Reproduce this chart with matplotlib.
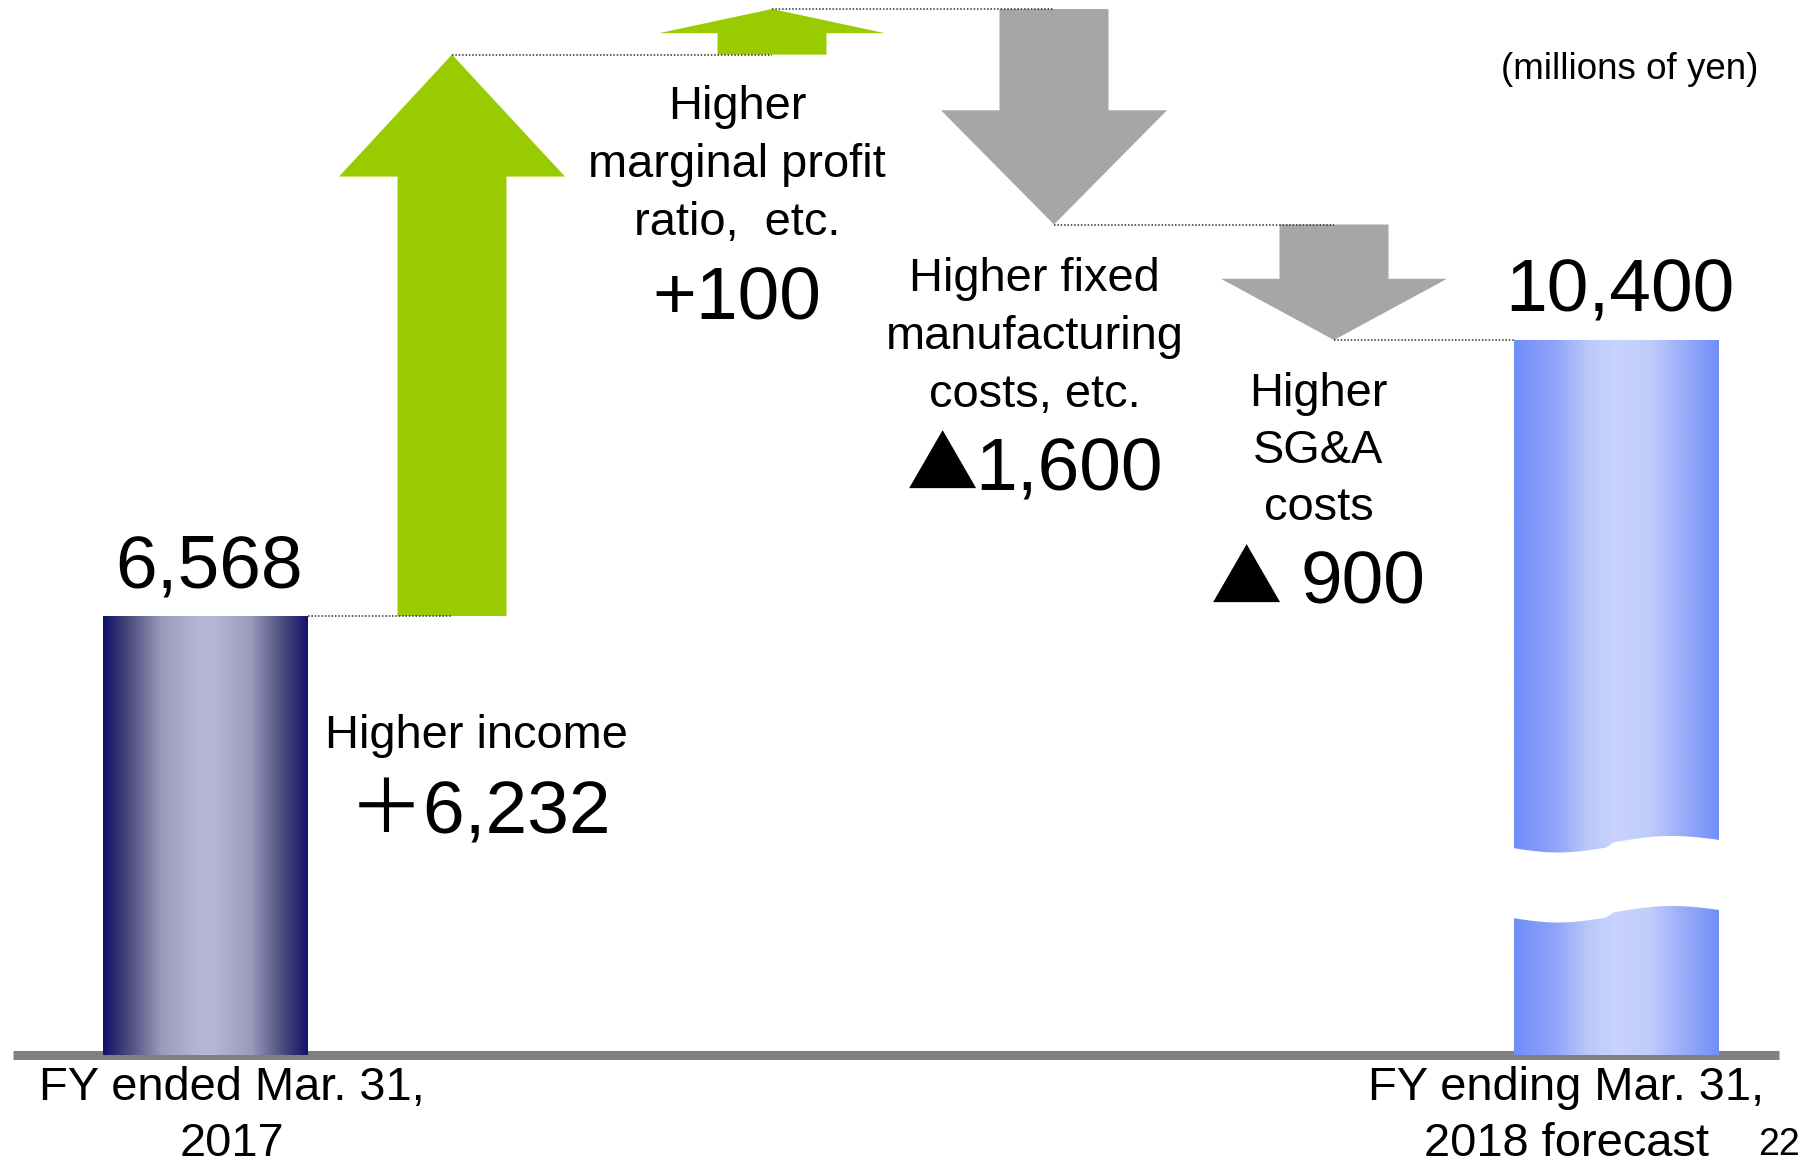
import numpy as np
import matplotlib
matplotlib.use("Agg")
import matplotlib.pyplot as plt
from matplotlib.patches import Polygon
from matplotlib.colors import to_rgb

# ---------------- data ----------------
CATEGORIES = [
    "FY ended Mar. 31,\n2017",
    "Higher income",
    "Higher\nmarginal profit\nratio,  etc.",
    "Higher fixed\nmanufacturing\ncosts, etc.",
    "Higher\nSG&A\ncosts",
    "FY ending Mar. 31,\n2018 forecast",
]
START_VALUE = 6568
DELTAS = [6232, 100, -1600, -900]
END_VALUE = 10400
DELTA_PREFIX = ["＋", "+", "▲", "▲"]
UNIT_LABEL = "(millions of yen)"
PAGE_NUMBER = "22"

# ---------------- layout / style ----------------
W, H, DPI = 1811, 1165, 100
X_CENTER = [205, 452, 772, 1054, 1334, 1616]      # horizontal slots (px)
BAR_W, HEAD_W, SHAFT_W = 205, 226, 109
# schematic (non-proportional) vertical scale of the original slide:
Y_KNOT_VALUE = [-1700, 0, 6568, 10400, 11300, 12800, 12900, 13300]
Y_KNOT_POS = [-3.6, 110, 549, 825, 940.5, 1110.4, 1156, 1276]

GREEN = "#99cc00"
GRAY = "#a6a6a6"
FONT = ["Liberation Sans", "Noto Sans CJK JP", "DejaVu Sans"]
TRI_FONT = ["Noto Sans CJK JP", "Liberation Sans"]
LABEL_PT = 33.8
VALUE_PT = 54
plt.rcParams["font.family"] = FONT

LEFT_GRAD = [(0.0, "#12126a"), (0.12, "#4a4a7c"), (0.28, "#9a9abc"),
             (0.45, "#b4b4d4"), (0.55, "#b4b4d4"), (0.72, "#9a9abc"),
             (0.88, "#4a4a7c"), (1.0, "#12126a")]
RIGHT_GRAD = [(0.0, "#6f8ef8"), (0.2, "#90a4f8"), (0.36, "#bcc8fa"),
              (0.5, "#c8d4fc"), (0.66, "#c0ccfa"), (0.83, "#98acf8"),
              (1.0, "#6f8ef8")]


def fwd(v):
    return np.interp(v, Y_KNOT_VALUE, Y_KNOT_POS)


def inv(p):
    return np.interp(p, Y_KNOT_POS, Y_KNOT_VALUE)


fig = plt.figure(figsize=(W / DPI, H / DPI), dpi=DPI)
fig.patch.set_facecolor("white")
ax = fig.add_axes([0, 0, 1, 1])
ax.set_xlim(0, W)
ax.set_yscale("function", functions=(fwd, inv))
ax.set_ylim(inv(0), inv(H))
ax.axis("off")

to_disp = ax.transData.transform
to_data = ax.transData.inverted().transform


def gradient_image(stops, n=256):
    pos = [s[0] for s in stops]
    cols = np.array([to_rgb(s[1]) for s in stops])
    t = np.linspace(0, 1, n)
    rgb = np.stack([np.interp(t, pos, cols[:, k]) for k in range(3)], axis=-1)
    return rgb[np.newaxis, :, :]


# baseline
ax.plot([13, 1779], [0, 0], color="#808080", lw=6.5, solid_capstyle="butt", zorder=1)

# levels
levels = [START_VALUE]
for d in DELTAS:
    levels.append(levels[-1] + d)

# start / end bars (gradient)
for xc, val, grad in [(X_CENTER[0], START_VALUE, LEFT_GRAD),
                      (X_CENTER[-1], END_VALUE, RIGHT_GRAD)]:
    ax.imshow(gradient_image(grad), extent=(xc - BAR_W / 2, xc + BAR_W / 2, 0, val),
              aspect="auto", interpolation="bilinear", zorder=3)

# break mark on the end bar
xc = X_CENTER[-1]
x0d = to_disp([(xc - BAR_W / 2 - 1, 0)])[0]
x1d = to_disp([(xc + BAR_W / 2 + 1, 0)])[0]
t = np.linspace(0, 1, 200)
wave = np.where(t <= 0.44, 4.5 * np.sin(np.pi * np.clip(t, 0, 0.44) / 0.44),
                np.where(t < 0.5, -6 * (1 - np.cos(np.pi * (t - 0.44) / 0.06)) / 2,
                         -6 - 2 * (t - 0.5) / 0.5 - 5 * np.sin(np.pi * (t - 0.5) / 0.5)))
xs = x0d[0] + t * (x1d[0] - x0d[0])
upper = x0d[1] + 207 - wave
lower = upper - 70
pts = np.vstack([np.column_stack([xs, upper]), np.column_stack([xs[::-1], lower[::-1]])])
ax.add_patch(Polygon(to_data(pts), closed=True, facecolor="white", edgecolor="none", zorder=4))

# arrows
for i, d in enumerate(DELTAS):
    xc = X_CENTER[i + 1]
    v0, v1 = levels[i], levels[i + 1]
    xd, y0 = to_disp([(xc, v0)])[0]
    _, y1 = to_disp([(xc, v1)])[0]
    length = abs(y1 - y0)
    s = np.sign(y1 - y0)
    head = min(0.53 * length, 122)
    yb = y1 - s * head
    poly = [(xd - SHAFT_W / 2, y0), (xd - SHAFT_W / 2, yb), (xd - HEAD_W / 2, yb),
            (xd, y1), (xd + HEAD_W / 2, yb), (xd + SHAFT_W / 2, yb), (xd + SHAFT_W / 2, y0)]
    ax.add_patch(Polygon(to_data(poly), closed=True,
                         facecolor=GREEN if d > 0 else GRAY, edgecolor="none", zorder=3))

# dotted connectors
n = len(X_CENTER)
for j in range(n - 1):
    lev = levels[j] if j < len(levels) else END_VALUE
    xs0 = X_CENTER[j] + (BAR_W / 2 if j == 0 else 0)
    xs1 = X_CENTER[j + 1] - (BAR_W / 2 if j + 1 == n - 1 else 0)
    ax.plot([xs0, xs1], [lev, lev], color="#303030", lw=1.1,
            linestyle=(0, (1, 1.2)), zorder=5)

# value labels on bars
for xc, val in [(X_CENTER[0], START_VALUE), (X_CENTER[-1], END_VALUE)]:
    ax.annotate(f"{val:,}", xy=(xc, val), xytext=(3, 20.5), textcoords="offset points",
                ha="center", va="baseline", fontsize=VALUE_PT, zorder=6)


def ftext(x, y, s, size, ha="center", **kw):
    fig.text(x / W, 1 - y / H, s, ha=ha, va="baseline", fontsize=size, **kw)


def lines(x, y, pitch, s, size):
    for k, line in enumerate(s.split("\n")):
        ftext(x, y + k * pitch, line, size)


# category label placement (center x, first baseline, line pitch) in px
CAT_POS = [(232, 1100, 56), (476, 748, 57), (737, 118.6, 58.3),
           (1034.5, 290.6, 58), (1318.5, 406, 57), (1566, 1100, 56)]
# delta label placement: (prefix x, number x, baseline) ; positive ones centred
DELTA_POS = [(480, None, 833.5), (737, None, 319.5), (942, 975, 490), (1246, 1301, 604)]

for cat, (x, y, p) in zip(CATEGORIES, CAT_POS):
    lines(x, y, p, cat, LABEL_PT)

for d, pre, (xp, xn, y) in zip(DELTAS, DELTA_PREFIX, DELTA_POS):
    if d >= 0:
        ftext(xp, y, f"{pre}{abs(d):,}", VALUE_PT)
    else:
        ftext(xp, y, pre, VALUE_PT * 0.95, family=TRI_FONT)
        ftext(xn, y, f"{abs(d):,}", VALUE_PT, ha="left")

ftext(1630, 79, UNIT_LABEL, 26.5)
ftext(1779, 1155, PAGE_NUMBER, 27)

fig.savefig("out.png", dpi=DPI, facecolor="white")
